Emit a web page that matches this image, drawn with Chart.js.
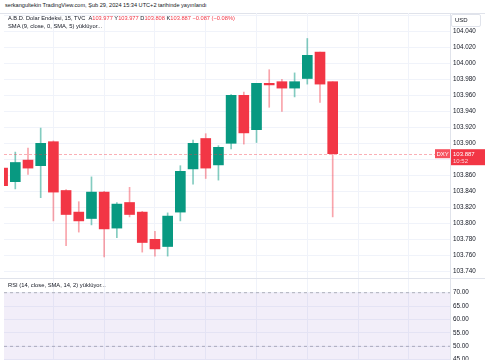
<!DOCTYPE html>
<html>
<head>
<meta charset="utf-8">
<script src="https://cdn.jsdelivr.net/npm/chart.js@4.4.0/dist/chart.umd.min.js"></script>
<style>
  body { margin: 0; background: #fff; width: 485px; height: 360px; overflow: hidden; position: relative;
         font-family: "Liberation Sans", Arial, sans-serif; color: #131722; }
  .txt { position: absolute; white-space: nowrap; line-height: 1; }
  .red { color: #f23645; }
  canvas { position: absolute; left: 0; }
</style>
</head>
<body>
<div class="txt" id="pub" style="left:5px; top:3px; font-size:5.6px;">serkangultekin TradingView.com, Şub 29, 2024 15:34 UTC+2 tarihinde yayınlandı</div>
<div style="position:absolute; left:0; top:13px; width:485px; border-top:1px solid #e0e3eb;"></div>
<div class="txt" id="legend1" style="left:8px; top:16px; font-size:5.7px; z-index:2;"></div>
<div class="txt" style="left:8px; top:24px; font-size:5.8px; z-index:2;">SMA (9, close, 0, SMA, 5) yüklüyor...</div>
<div style="position:absolute; left:0; top:278px; width:485px; border-top:1px solid #e0e3eb; z-index:2;"></div>
<div class="txt" style="left:8px; top:283px; font-size:5.8px; z-index:2;">RSI (14, close, SMA, 14, 2) yüklüyor...</div>
<div style="position:absolute; left:451px; top:14px; width:28px; height:11px; border:1px solid #e0e3eb; border-radius:2px; background:#fff; z-index:2;"></div>
<div class="txt" style="left:455px; top:17px; font-size:6px; z-index:3;">USD</div>
<canvas id="priceChart" width="485" height="265" style="top:13px;"></canvas>
<canvas id="rsiChart" width="485" height="121" style="top:279px;"></canvas>
<script>
// 15 dakikalık mumlar
const opens  = [103.869, 103.852, 103.879, 103.872, 103.902, 103.841, 103.814, 103.806, 103.839, 103.794,
                103.826, 103.814, 103.780, 103.771, 103.814, 103.868, 103.906, 103.873, 103.900, 103.960,
                103.917, 103.975, 103.977, 103.969, 103.981, 104.014, 103.977];
const highs  = [103.869, 103.889, 103.894, 103.919, 103.903, 103.842, 103.827, 103.858, 103.840, 103.826,
                103.845, 103.815, 103.790, 103.813, 103.872, 103.904, 103.912, 103.897, 103.961, 103.964,
                103.975, 103.992, 103.980, 103.988, 104.031, 104.014, 103.977];
const lows   = [103.847, 103.843, 103.861, 103.832, 103.803, 103.772, 103.789, 103.798, 103.758, 103.782,
                103.808, 103.764, 103.759, 103.759, 103.803, 103.849, 103.856, 103.854, 103.893, 103.899,
                103.901, 103.945, 103.940, 103.958, 103.974, 103.951, 103.808];
const closes = [103.847, 103.876, 103.869, 103.900, 103.839, 103.811, 103.803, 103.839, 103.793, 103.824,
                103.811, 103.776, 103.768, 103.809, 103.865, 103.900, 103.869, 103.895, 103.960, 103.913,
                103.975, 103.973, 103.969, 103.977, 104.010, 103.974, 103.887];
const lastTime = '10:52';
const symbol = 'DXY';

const priceTicks = [104.06, 104.04, 104.02, 104.00, 103.98, 103.96, 103.94, 103.92, 103.90, 103.88,
                    103.86, 103.84, 103.82, 103.80, 103.78, 103.76, 103.74];
const hiddenPriceTicks = [104.06, 103.88];
const rsiTicks = [70, 65, 60, 55, 50, 45];
const rsiBands = [70, 50, 30];
const timeGrid = [4, 8, 12, 16, 20, 24, 28, 32];

const UP = '#089981', DOWN = '#f23645';
const UP_WICK = 'rgba(8,153,129,0.5)', DOWN_WICK = 'rgba(242,54,69,0.45)';
const X_MIN = 0.11, X_MAX = 35.24;

const n = closes.length;
const last = closes[n - 1];
const chg = last - closes[n - 2];
document.getElementById('legend1').innerHTML =
  'A.B.D. Dolar Endeksi, 15, TVC &nbsp;A<span class="red">' + opens[n - 1].toFixed(3) +
  '</span> Y<span class="red">' + highs[n - 1].toFixed(3) +
  '</span> D<span class="red">' + lows[n - 1].toFixed(3) +
  '</span> K<span class="red">' + last.toFixed(3) +
  ' \u2212' + Math.abs(chg).toFixed(3) + ' (\u2212' + Math.abs(chg / closes[n - 2] * 100).toFixed(2) + '%)</span>';

const isUp = closes.map((c, i) => c >= opens[i]);

function noPad(s) {
  s.paddingTop = 0; s.paddingBottom = 0; s.paddingLeft = 0; s.paddingRight = 0;
}

function timeAxis() {
  return {
    type: 'linear', min: X_MIN, max: X_MAX,
    offset: false,
    afterBuildTicks: s => { s.ticks = timeGrid.map(v => ({ value: v })); },
    afterFit: s => { s.height = 0; noPad(s); },
    ticks: { display: false },
    border: { display: false },
    grid: { color: '#f0f3fa', drawTicks: false, offset: false }
  };
}

function rightAxis(min, max, ticks, fmt) {
  return {
    position: 'right',
    min: min, max: max,
    afterBuildTicks: s => { s.ticks = ticks.map(v => ({ value: v })); },
    afterFit: s => { s.width = 35; noPad(s); },
    border: { display: true, color: '#e0e3eb' },
    grid: { color: '#f0f3fa', drawTicks: false },
    ticks: {
      padding: 3,
      autoSkip: false,
      color: '#131722',
      font: { size: 6.3, family: '"Liberation Sans", Arial, sans-serif' },
      callback: fmt
    }
  };
}

// son fiyat çizgisi ve etiket
const lastPricePlugin = {
  id: 'lastPrice',
  afterDatasetsDraw(chart) {
    const { ctx, chartArea } = chart;
    const y = Math.round(chart.scales.y.getPixelForValue(last)) + 0.5;
    ctx.save();
    ctx.strokeStyle = 'rgba(242,54,69,0.4)';
    ctx.setLineDash([3, 2]);
    ctx.beginPath();
    ctx.moveTo(chartArea.left, y);
    ctx.lineTo(chartArea.right, y);
    ctx.stroke();
    ctx.restore();
  },
  afterDraw(chart) {
    const { ctx, chartArea } = chart;
    const y = chart.scales.y.getPixelForValue(last);
    ctx.save();
    ctx.fillStyle = '#f7525f';
    ctx.fillRect(chartArea.left + 431, y - 4.5, 15, 9);
    ctx.fillStyle = DOWN;
    ctx.fillRect(chartArea.right + 1, y - 4.5, 34, 16);
    ctx.fillStyle = '#fff';
    ctx.font = '6px "Liberation Sans", Arial, sans-serif';
    ctx.textBaseline = 'middle';
    ctx.fillText(symbol, chartArea.left + 432.5, y + 0.3);
    ctx.fillText(last.toFixed(3), chartArea.right + 3, y + 0.3);
    ctx.fillStyle = 'rgba(255,255,255,0.8)';
    ctx.fillText(lastTime, chartArea.right + 3, y + 7.3);
    ctx.restore();
  }
};

new Chart(document.getElementById('priceChart').getContext('2d'), {
  type: 'bar',
  data: {
    datasets: [{
      label: 'govde',
      data: opens.map((o, i) => ({ x: i, y: [o, closes[i]] })),
      backgroundColor: isUp.map(u => u ? UP : DOWN),
      barThickness: 10,
      grouped: false,
      clip: 0,
      order: 1
    }, {
      label: 'fitil',
      data: lows.map((l, i) => ({ x: i, y: [l, highs[i]] })),
      backgroundColor: isUp.map(u => u ? UP_WICK : DOWN_WICK),
      barThickness: 1,
      grouped: false,
      clip: 0,
      order: 2
    }]
  },
  options: {
    responsive: false,
    animation: false,
    layout: { padding: { left: 4, right: 0, top: 0, bottom: 0 } },
    plugins: { legend: { display: false }, tooltip: { enabled: false } },
    scales: {
      x: timeAxis(),
      y: rightAxis(103.731625, 104.062875, priceTicks,
        v => hiddenPriceTicks.some(h => Math.abs(h - v) < 1e-6) ? '' : v.toFixed(3))
    }
  },
  plugins: [lastPricePlugin]
});

// RSI paneli (veri yükleniyor, sadece bantlar)
new Chart(document.getElementById('rsiChart').getContext('2d'), {
  type: 'line',
  data: {
    datasets: [{
      label: 'ust bant',
      data: [{ x: X_MIN, y: rsiBands[0] }, { x: X_MAX, y: rsiBands[0] }],
      borderColor: 'rgba(120,123,134,0.55)',
      borderWidth: 1,
      borderDash: [3, 3],
      pointRadius: 0,
      fill: { target: { value: rsiBands[2] } },
      backgroundColor: 'rgba(126,87,194,0.1)'
    }, {
      label: 'orta bant',
      data: [{ x: X_MIN, y: rsiBands[1] }, { x: X_MAX, y: rsiBands[1] }],
      borderColor: 'rgba(120,123,134,0.55)',
      borderWidth: 1,
      borderDash: [3, 3],
      pointRadius: 0,
      fill: false
    }]
  },
  options: {
    responsive: false,
    animation: false,
    layout: { padding: { left: 4, right: 0, top: 0, bottom: 0 } },
    plugins: { legend: { display: false }, tooltip: { enabled: false } },
    scales: {
      x: timeAxis(),
      y: rightAxis(30, 75.1, rsiTicks, v => v.toFixed(2))
    }
  }
});
</script>
</body>
</html>
